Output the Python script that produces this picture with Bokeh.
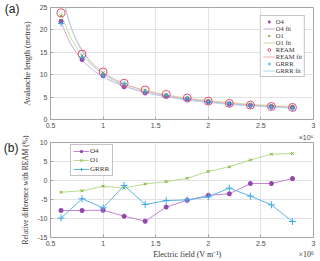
import numpy as np
from bokeh.plotting import figure
from bokeh.layouts import column
from bokeh.models import (Range1d, FixedTicker, CustomJSTickFormatter, LinearAxis,
                          Legend, LegendItem)
from bokeh.embed import file_html
from bokeh.resources import INLINE

# ---- data (electric field in units of 1e6 V/m) ----
field = [0.6, 0.8, 1.0, 1.2, 1.4, 1.6, 1.8, 2.0, 2.2, 2.4, 2.6, 2.8]
ream = [23.8, 14.6, 10.6, 8.1, 6.6, 5.6, 4.8, 4.1, 3.6, 3.2, 2.9, 2.7]
o4 = [21.9, 13.4, 9.8, 7.3, 5.9, 5.2, 4.55, 3.94, 3.47, 3.17, 2.88, 2.71]
o1 = [23.1, 14.2, 10.4, 7.94, 6.54, 5.58, 4.83, 4.2, 3.73, 3.37, 3.1, 2.89]
grrr = [21.4, 13.9, 9.84, 8.0, 6.18, 5.31, 4.56, 3.92, 3.53, 3.07, 2.71, 2.41]

diff_o4 = [-7.9, -7.9, -7.8, -9.4, -10.7, -7.0, -5.2, -3.9, -3.5, -0.8, -0.8, 0.5]
diff_o1 = [-3.1, -2.7, -1.5, -2.0, -0.9, -0.3, 0.6, 2.4, 3.6, 5.4, 6.9, 7.1]
diff_grrr = [-9.9, -4.8, -7.2, -1.3, -6.3, -5.3, -5.1, -4.3, -2.0, -4.1, -6.4, -10.8]

x_ticks = [0.5, 1, 1.5, 2, 2.5, 3]
top_y_ticks = [0, 5, 10, 15, 20, 25]
bot_y_ticks = [-15, -10, -5, 0, 5, 10]

C_O4, C_O4L = "#9448ac", "#d2a6df"
C_O1, C_O1L = "#77ac30", "#c4e09c"
C_RE, C_REL = "#e0506a", "#f2aab4"
C_GR, C_GRL = "#3fa9e6", "#a9d6f2"
C_O4B, C_O1B, C_GRB = "#c484d6", "#b9db8c", "#5db5e8"

TICK_FONT = "Liberation Sans"
SERIF = "Liberation Serif"
TICK_COLOR = "#4d4d4d"
AX_COLOR = "#a6a6a6"


def fit_curve(x, y):
    m, c = np.polyfit(np.array(x), 1.0 / np.array(y), 1)
    xs = np.linspace(min(x), max(x), 200)
    return xs, 1.0 / (m * xs + c)


def style(p, yticks):
    fmt = CustomJSTickFormatter(code="return tick.toString();")
    for ax in p.below:
        ax.ticker = FixedTicker(ticks=x_ticks)
        ax.formatter = fmt
    for ax in p.left:
        ax.ticker = FixedTicker(ticks=yticks)
        ax.formatter = fmt
    for ax in p.below + p.left:
        ax.major_tick_in = 3
        ax.major_tick_out = 0
        ax.minor_tick_in = 0
        ax.minor_tick_out = 0
        ax.axis_line_color = AX_COLOR
        ax.major_tick_line_color = AX_COLOR
        ax.major_label_text_font = TICK_FONT
        ax.major_label_text_font_size = "7px"
        ax.major_label_text_color = TICK_COLOR
        ax.major_label_standoff = 3
        ax.axis_label_text_font = SERIF
        ax.axis_label_text_font_style = "normal"
        ax.axis_label_text_font_size = "8px"
        ax.axis_label_text_color = "#333333"
    p.xgrid.ticker = FixedTicker(ticks=x_ticks)
    p.ygrid.ticker = FixedTicker(ticks=yticks)
    p.grid.grid_line_color = "#e3e3e3"
    p.outline_line_color = AX_COLOR


def text_axis(p, place, tick_values, js_code, font, size, color, standoff):
    """An axis with no line and no ticks, used only to place texts outside the frame."""
    ax = LinearAxis(ticker=FixedTicker(ticks=tick_values),
                    formatter=CustomJSTickFormatter(code=js_code))
    ax.axis_line_color = None
    ax.major_tick_line_color = None
    ax.minor_tick_line_color = None
    ax.major_tick_in = 0
    ax.major_tick_out = 0
    ax.minor_tick_in = 0
    ax.minor_tick_out = 0
    ax.major_label_standoff = standoff
    ax.major_label_text_font = font
    ax.major_label_text_font_size = size
    ax.major_label_text_color = color
    p.add_layout(ax, place)
    return ax


# ---------------- top panel ----------------
p1 = figure(width=320, height=130, output_backend="svg", toolbar_location=None,
            x_range=Range1d(0.5, 3), y_range=Range1d(0, 25),
            min_border_left=49, min_border_right=7, min_border_top=7, min_border_bottom=11)
style(p1, top_y_ticks)
p1.left[0].axis_label = "Avalanche length (metres)"
p1.left[0].axis_label_standoff = 5

xs, ys = fit_curve(field, o4)
l_o4 = p1.line(xs, ys, line_color=C_O4L, line_width=1)
xs, ys = fit_curve(field, o1)
l_o1 = p1.line(xs, ys, line_color=C_O1L, line_width=1)
xs, ys = fit_curve(field, ream)
l_re = p1.line(xs, ys, line_color=C_REL, line_width=1)
xs, ys = fit_curve(field, grrr)
l_gr = p1.line(xs, ys, line_color=C_GRL, line_width=1)

s_o4 = p1.scatter(field, o4, marker="asterisk", size=5, line_color=C_O4, line_width=1.5)
s_o1 = p1.scatter(field, o1, marker="x", size=4, line_color=C_O1, line_width=1)
s_re = p1.scatter(field, ream, marker="circle", size=8, line_color=C_RE, fill_color=None, line_width=1)
s_gr = p1.scatter(field, grrr, marker="cross", size=6, line_color=C_GR, line_width=1)

leg1 = Legend(items=[
    LegendItem(label="O4", renderers=[s_o4]),
    LegendItem(label="O4 fit", renderers=[l_o4]),
    LegendItem(label="O1", renderers=[s_o1]),
    LegendItem(label="O1 fit", renderers=[l_o1]),
    LegendItem(label="REAM", renderers=[s_re]),
    LegendItem(label="REAM fit", renderers=[l_re]),
    LegendItem(label="GRRR", renderers=[s_gr]),
    LegendItem(label="GRRR fit", renderers=[l_gr]),
], location="top_right")
leg1.label_text_font = SERIF
leg1.label_text_font_size = "6.5px"
leg1.label_text_color = "#333333"
leg1.glyph_width = 12
leg1.glyph_height = 7
leg1.label_height = 7
leg1.label_standoff = 1
leg1.spacing = 0
leg1.padding = 2
leg1.margin = 8
leg1.border_line_color = "#888888"
leg1.background_fill_alpha = 1
p1.add_layout(leg1)

# panel tag "(a)" as the single label of an outer, line-less axis
text_axis(p1, "left", [24.7], "return '(a)';", TICK_FONT, "12px", "#222222", 0)

# ---------------- bottom panel ----------------
p2 = figure(width=320, height=131, output_backend="svg", toolbar_location=None,
            x_range=Range1d(0.5, 3), y_range=Range1d(-15, 10),
            min_border_left=49, min_border_right=7, min_border_top=12, min_border_bottom=24)
style(p2, bot_y_ticks)
p2.left[0].axis_label = "Relative difference with REAM (%)"
p2.left[0].axis_label_text_font_size = "7.5px"
p2.left[0].axis_label_standoff = 4

b_o4l = p2.line(field, diff_o4, line_color=C_O4B, line_width=1)
b_o4s = p2.scatter(field, diff_o4, marker="asterisk", size=5, line_color=C_O4, line_width=1.5)
b_o1l = p2.line(field, diff_o1, line_color=C_O1B, line_width=1)
b_o1s = p2.scatter(field, diff_o1, marker="x", size=4, line_color=C_O1, line_width=1)
b_grl = p2.line(field, diff_grrr, line_color=C_GRB, line_width=1)
b_grs = p2.scatter(field, diff_grrr, marker="cross", size=7, line_color=C_GR, line_width=1)

leg2 = Legend(items=[
    LegendItem(label="O4", renderers=[b_o4l, b_o4s]),
    LegendItem(label="O1", renderers=[b_o1l, b_o1s]),
    LegendItem(label="GRRR", renderers=[b_grl, b_grs]),
], location=(20, 61))
leg2.label_text_font = SERIF
leg2.label_text_font_size = "7px"
leg2.label_text_color = "#333333"
leg2.glyph_width = 16
leg2.glyph_height = 8
leg2.label_height = 8
leg2.label_standoff = 1
leg2.spacing = 1
leg2.padding = 2
leg2.margin = 0
leg2.border_line_color = "#888888"
p2.add_layout(leg2)

# panel tag "(b)"
text_axis(p2, "left", [8.55], "return '(b)';", TICK_FONT, "12px", "#222222", 0)
# "x10^6" multiplier of the upper panel (sits just above the lower frame)
text_axis(p2, "above", [2.93], "return '\u00d710\u2076';", TICK_FONT, "7px", TICK_COLOR, 2)
# x-axis title and the lower multiplier, as labels of a second bottom axis
text_axis(p2, "below", [1.8, 2.93],
          "return tick < 2.5 ? 'Electric field (V m\u207b\u00b9)' : '\u00d710\u2076';",
          SERIF, "8px", "#333333", 1)

layout = column(p1, p2, spacing=0)
open("out.html", "w").write(file_html(layout, INLINE))
